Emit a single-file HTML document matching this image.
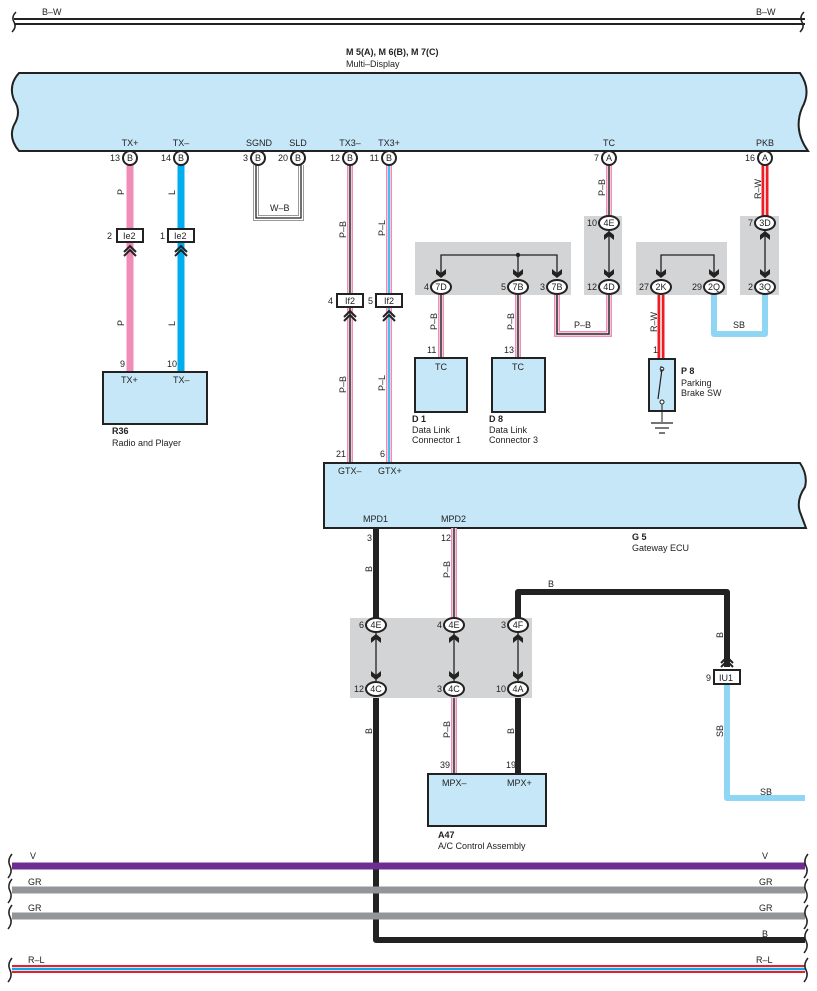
<!DOCTYPE html>
<html><head><meta charset="utf-8"><style>
html,body{margin:0;padding:0;background:#fff}
svg{display:block}
text{font-family:"Liberation Sans",sans-serif;font-size:9px;fill:#222}
.b{font-weight:bold}
</style></head><body>
<svg width="817" height="991" viewBox="0 0 817 991" xmlns="http://www.w3.org/2000/svg">
<defs>
<g id="dn"><path d="M-5,-7 L0,-3 L5,-7 L5,-2 L0,2 L-5,-2Z" fill="#222"/></g>
<g id="up"><path d="M-5,7 L0,3 L5,7 L5,2 L0,-2 L-5,2Z" fill="#222"/></g>
<g id="chev"><path d="M-6,4 L0,-2 L6,4 M-6,8 L0,2 L6,8" fill="none" stroke="#222" stroke-width="2"/></g>
</defs>

<!-- top B-W bus -->
<line x1="14" y1="19" x2="805" y2="19" stroke="#222" stroke-width="2"/>
<line x1="14" y1="24" x2="805" y2="24" stroke="#222" stroke-width="2"/>
<path d="M16,12 q-5,5 -2,10 q3,5 -2,10" fill="none" stroke="#222" stroke-width="1.5"/>
<path d="M804,12 q-5,5 -2,10 q3,5 -2,10" fill="none" stroke="#222" stroke-width="1.5"/>
<text x="42" y="15">B–W</text><text x="756" y="15">B–W</text>

<!-- Multi-display -->
<text x="346" y="55" class="b">M 5(A), M 6(B), M 7(C)</text>
<text x="346" y="67">Multi–Display</text>
<path d="M19,73 L800,73 Q812,90 802,108 Q793,130 808,151 L19,151 Q8,138 14,125 Q22,112 14,100 Q8,85 19,73Z" fill="#c6e7f8" stroke="#222" stroke-width="2"/>
<g text-anchor="middle">
<text x="130" y="146">TX+</text><text x="181" y="146">TX–</text><text x="259" y="146">SGND</text><text x="298" y="146">SLD</text>
<text x="350" y="146">TX3–</text><text x="389" y="146">TX3+</text><text x="609" y="146">TC</text><text x="765" y="146">PKB</text>
</g>

<!-- W-B shield -->
<path d="M256,165 V218 H301 V165" fill="none" stroke="#999" stroke-width="6"/>
<path d="M256,165 V218 H301 V165" fill="none" stroke="#fff" stroke-width="4"/>
<path d="M256,165 V218 H301 V165" fill="none" stroke="#222" stroke-width="1.3"/>
<text x="270" y="211">W–B</text>

<!-- TX+ P -->
<line x1="130" y1="165" x2="130" y2="372" stroke="#f08cb8" stroke-width="7"/>
<line x1="181" y1="165" x2="181" y2="372" stroke="#00aeef" stroke-width="7"/>
<rect x="117" y="229" width="26" height="13" fill="#fff" stroke="#222" stroke-width="2"/>
<rect x="168" y="229" width="26" height="13" fill="#fff" stroke="#222" stroke-width="2"/>
<text x="123" y="239">Ie2</text><text x="174" y="239">Ie2</text>
<text x="107" y="239">2</text><text x="160" y="239">1</text>
<use href="#chev" x="130" y="248"/><use href="#chev" x="181" y="248"/>
<text transform="translate(124,195) rotate(-90)">P</text>
<text transform="translate(175,195) rotate(-90)">L</text>
<text transform="translate(124,326) rotate(-90)">P</text>
<text transform="translate(175,326) rotate(-90)">L</text>
<text x="120" y="367">9</text><text x="167" y="367">10</text>
<rect x="103" y="372" width="104" height="52" fill="#c6e7f8" stroke="#222" stroke-width="2"/>
<text x="121" y="383">TX+</text><text x="173" y="383">TX–</text>
<text x="112" y="434" class="b">R36</text><text x="112" y="446">Radio and Player</text>

<!-- TX3- / TX3+ -->
<line x1="350" y1="165" x2="350" y2="463" stroke="#f08cb8" stroke-width="6"/>
<line x1="350" y1="165" x2="350" y2="463" stroke="#fff" stroke-width="3"/>
<line x1="350" y1="165" x2="350" y2="463" stroke="#222" stroke-width="1.5"/>
<line x1="389" y1="165" x2="389" y2="463" stroke="#f08cb8" stroke-width="6"/>
<line x1="389" y1="165" x2="389" y2="463" stroke="#fff" stroke-width="3"/>
<line x1="389" y1="165" x2="389" y2="463" stroke="#00aeef" stroke-width="1.5"/>
<rect x="337" y="294" width="26" height="13" fill="#fff" stroke="#222" stroke-width="2"/>
<rect x="376" y="294" width="26" height="13" fill="#fff" stroke="#222" stroke-width="2"/>
<text x="345" y="304">If2</text><text x="384" y="304">If2</text>
<text x="328" y="304">4</text><text x="368" y="304">5</text>
<use href="#chev" x="350" y="313"/><use href="#chev" x="389" y="313"/>
<text transform="translate(346,238) rotate(-90)">P–B</text>
<text transform="translate(385,236) rotate(-90)">P–L</text>
<text transform="translate(346,393) rotate(-90)">P–B</text>
<text transform="translate(385,391) rotate(-90)">P–L</text>
<text x="336" y="457">21</text><text x="380" y="457">6</text>

<!-- gray boxes -->
<rect x="415" y="242" width="156" height="53" fill="#d3d4d6"/>
<rect x="584" y="216" width="38" height="79" fill="#d3d4d6"/>
<rect x="636" y="242" width="91" height="53" fill="#d3d4d6"/>
<rect x="740" y="216" width="39" height="79" fill="#d3d4d6"/>
<rect x="350" y="618" width="182" height="80" fill="#d3d4d6"/>

<!-- TC P-B from display -->
<line x1="609" y1="165" x2="609" y2="216" stroke="#f08cb8" stroke-width="6"/>
<line x1="609" y1="165" x2="609" y2="216" stroke="#fff" stroke-width="3"/>
<line x1="609" y1="165" x2="609" y2="216" stroke="#222" stroke-width="1.5"/>
<text transform="translate(605,196) rotate(-90)">P–B</text>
<!-- PKB R-W -->
<line x1="765" y1="165" x2="765" y2="216" stroke="#ee1c25" stroke-width="7"/>
<line x1="765" y1="165" x2="765" y2="216" stroke="#fff" stroke-width="1.5"/>
<text transform="translate(761,199) rotate(-90)">R–W</text>

<!-- internal splice lines -->
<path d="M441,276 V255 H557 V276 M518,255 V276" fill="none" stroke="#222" stroke-width="1.3"/>
<circle cx="518" cy="255" r="2.2" fill="#222"/>
<path d="M661,276 V255 H714 V276" fill="none" stroke="#222" stroke-width="1.3"/>
<line x1="609" y1="230" x2="609" y2="278" stroke="#222" stroke-width="1.3"/>
<line x1="765" y1="230" x2="765" y2="278" stroke="#222" stroke-width="1.3"/>
<use href="#dn" x="441" y="276"/><use href="#dn" x="518" y="276"/><use href="#dn" x="557" y="276"/>
<use href="#dn" x="609" y="276"/><use href="#dn" x="661" y="276"/><use href="#dn" x="714" y="276"/><use href="#dn" x="765" y="276"/>
<use href="#up" x="609" y="233"/><use href="#up" x="765" y="233"/>

<!-- wires below box1 -->
<g fill="none">
<path d="M441,295 V358 M518,295 V358 M557,295 V334 H609 V295" stroke="#f08cb8" stroke-width="6"/>
<path d="M441,295 V358 M518,295 V358 M557,295 V334 H609 V295" stroke="#fff" stroke-width="3"/>
<path d="M441,295 V358 M518,295 V358 M557,295 V334 H609 V295" stroke="#222" stroke-width="1.5"/>
<path d="M661,295 V358" stroke="#ee1c25" stroke-width="7"/>
<path d="M661,295 V358" stroke="#fff" stroke-width="1.5"/>
<path d="M714,295 V334 H765 V295" stroke="#8fd6f5" stroke-width="6" stroke-linejoin="round"/>
</g>
<text transform="translate(437,330) rotate(-90)">P–B</text>
<text transform="translate(514,330) rotate(-90)">P–B</text>
<text x="574" y="328">P–B</text>
<text transform="translate(657,332) rotate(-90)">R–W</text>
<text x="733" y="328">SB</text>

<!-- connectors -->
<g stroke="#222" stroke-width="2" fill="#fff">
<circle cx="130" cy="158" r="7"/><circle cx="181" cy="158" r="7"/><circle cx="258" cy="158" r="7"/><circle cx="298" cy="158" r="7"/>
<circle cx="350" cy="158" r="7"/><circle cx="389" cy="158" r="7"/><circle cx="609" cy="158" r="7"/><circle cx="765" cy="158" r="7"/>
<ellipse cx="609" cy="223" rx="10" ry="7"/><ellipse cx="765" cy="223" rx="10" ry="7"/>
<ellipse cx="441" cy="287" rx="10" ry="7"/><ellipse cx="518" cy="287" rx="10" ry="7"/><ellipse cx="557" cy="287" rx="10" ry="7"/>
<ellipse cx="609" cy="287" rx="10" ry="7"/><ellipse cx="661" cy="287" rx="10" ry="7"/><ellipse cx="714" cy="287" rx="10" ry="7"/><ellipse cx="765" cy="287" rx="10" ry="7"/>
</g>
<g text-anchor="middle">
<text x="130" y="161">B</text><text x="181" y="161">B</text><text x="258" y="161">B</text><text x="298" y="161">B</text>
<text x="350" y="161">B</text><text x="389" y="161">B</text><text x="609" y="161">A</text><text x="765" y="161">A</text>
<text x="609" y="226">4E</text><text x="765" y="226">3D</text>
<text x="441" y="290">7D</text><text x="518" y="290">7B</text><text x="557" y="290">7B</text><text x="609" y="290">4D</text>
<text x="661" y="290">2K</text><text x="714" y="290">2Q</text><text x="765" y="290">3Q</text>
</g>
<g text-anchor="end">
<text x="120" y="161">13</text><text x="171" y="161">14</text><text x="248" y="161">3</text><text x="288" y="161">20</text>
<text x="340" y="161">12</text><text x="379" y="161">11</text><text x="599" y="161">7</text><text x="755" y="161">16</text>
<text x="597" y="226">10</text><text x="753" y="226">7</text>
<text x="429" y="290">4</text><text x="506" y="290">5</text><text x="545" y="290">3</text><text x="597" y="290">12</text>
<text x="649" y="290">27</text><text x="702" y="290">29</text><text x="753" y="290">2</text>
</g>

<!-- D1 D8 -->
<text x="427" y="353">11</text><text x="504" y="353">13</text>
<rect x="415" y="358" width="52" height="54" fill="#c6e7f8" stroke="#222" stroke-width="2"/>
<rect x="492" y="358" width="53" height="54" fill="#c6e7f8" stroke="#222" stroke-width="2"/>
<text x="435" y="370">TC</text><text x="512" y="370">TC</text>
<text x="412" y="422" class="b">D 1</text><text x="412" y="433">Data Link</text><text x="412" y="443">Connector 1</text>
<text x="489" y="422" class="b">D 8</text><text x="489" y="433">Data Link</text><text x="489" y="443">Connector 3</text>

<!-- P8 -->
<text x="653" y="353">1</text>
<rect x="649" y="359" width="26" height="52" fill="#c6e7f8" stroke="#222" stroke-width="2"/>
<line x1="661" y1="366" x2="661" y2="372" stroke="#222"/>
<circle cx="662" cy="369" r="1.8" fill="#fff" stroke="#222"/>
<line x1="662" y1="369" x2="658" y2="399" stroke="#222" stroke-width="1.2"/>
<circle cx="662" cy="402" r="2" fill="#fff" stroke="#222"/>
<line x1="662" y1="404" x2="662" y2="422" stroke="#222"/>
<line x1="651" y1="423" x2="673" y2="423" stroke="#222" stroke-width="1.2"/>
<line x1="655" y1="428" x2="669" y2="428" stroke="#222" stroke-width="1.2"/>
<line x1="659" y1="433" x2="665" y2="433" stroke="#222" stroke-width="1.2"/>
<text x="681" y="374" class="b">P 8</text><text x="681" y="386">Parking</text><text x="681" y="396">Brake SW</text>

<!-- G5 -->
<path d="M324,463 L800,463 Q808,475 805,487 Q796,500 800,512 L806,528 L324,528Z" fill="#c6e7f8" stroke="#222" stroke-width="2"/>
<text x="338" y="474">GTX–</text><text x="378" y="474">GTX+</text>
<text x="363" y="522">MPD1</text><text x="441" y="522">MPD2</text>
<text x="632" y="540" class="b">G 5</text><text x="632" y="551">Gateway ECU</text>

<!-- lower wires -->
<g fill="none">
<path d="M376,528 V618 M376,698 V940 H805" stroke="#222" stroke-width="6" stroke-linejoin="round"/>
<path d="M518,618 V592 H727 V667 M518,698 V773" stroke="#222" stroke-width="6" stroke-linejoin="round"/>
<path d="M454,528 V618 M454,698 V773" stroke="#f08cb8" stroke-width="6"/>
<path d="M454,528 V618 M454,698 V773" stroke="#fff" stroke-width="3"/>
<path d="M454,528 V618 M454,698 V773" stroke="#222" stroke-width="1.5"/>
<path d="M727,684 V798 H805" stroke="#8fd6f5" stroke-width="6" stroke-linejoin="round"/>
</g>
<!-- gray-box internals -->
<g stroke="#222" stroke-width="1.3"><line x1="376" y1="633" x2="376" y2="681"/><line x1="454" y1="633" x2="454" y2="681"/><line x1="518" y1="633" x2="518" y2="681"/></g>
<use href="#up" x="376" y="636"/><use href="#up" x="454" y="636"/><use href="#up" x="518" y="636"/>
<use href="#dn" x="376" y="678"/><use href="#dn" x="454" y="678"/><use href="#dn" x="518" y="678"/>
<g stroke="#222" stroke-width="2" fill="#fff">
<ellipse cx="376" cy="625" rx="10" ry="7"/><ellipse cx="454" cy="625" rx="10" ry="7"/><ellipse cx="518" cy="625" rx="10" ry="7"/>
<ellipse cx="376" cy="689" rx="10" ry="7"/><ellipse cx="454" cy="689" rx="10" ry="7"/><ellipse cx="518" cy="689" rx="10" ry="7"/>
</g>
<g text-anchor="middle">
<text x="376" y="628">4E</text><text x="454" y="628">4E</text><text x="518" y="628">4F</text>
<text x="376" y="692">4C</text><text x="454" y="692">4C</text><text x="518" y="692">4A</text>
</g>
<g text-anchor="end">
<text x="364" y="628">6</text><text x="442" y="628">4</text><text x="506" y="628">3</text>
<text x="364" y="692">12</text><text x="442" y="692">3</text><text x="506" y="692">10</text>
</g>
<text x="367" y="541">3</text><text x="441" y="541">12</text>
<text transform="translate(372,572) rotate(-90)">B</text>
<text transform="translate(450,578) rotate(-90)">P–B</text>
<text transform="translate(372,734) rotate(-90)">B</text>
<text transform="translate(450,738) rotate(-90)">P–B</text>
<text transform="translate(514,734) rotate(-90)">B</text>
<text x="548" y="587">B</text>
<text transform="translate(723,638) rotate(-90)">B</text>
<text transform="translate(723,737) rotate(-90)">SB</text>
<text x="760" y="795">SB</text>
<use href="#chev" x="727" y="659"/>
<rect x="714" y="670" width="26" height="14" fill="#fff" stroke="#222" stroke-width="2"/>
<text x="719" y="681">IU1</text><text x="706" y="681">9</text>

<!-- A47 -->
<text x="440" y="768">39</text><text x="506" y="768">19</text>
<rect x="428" y="774" width="118" height="52" fill="#c6e7f8" stroke="#222" stroke-width="2"/>
<text x="442" y="786">MPX–</text><text x="507" y="786">MPX+</text>
<text x="438" y="838" class="b">A47</text><text x="438" y="849">A/C Control Assembly</text>

<!-- bottom buses -->
<line x1="12" y1="866" x2="805" y2="866" stroke="#6f2c91" stroke-width="7"/>
<line x1="12" y1="890" x2="805" y2="890" stroke="#939598" stroke-width="7"/>
<line x1="12" y1="916" x2="805" y2="916" stroke="#939598" stroke-width="7"/>
<line x1="12" y1="966" x2="805" y2="966" stroke="#ee1c25" stroke-width="2"/>
<line x1="12" y1="969" x2="805" y2="969" stroke="#00aeef" stroke-width="2.5"/>
<line x1="12" y1="972" x2="805" y2="972" stroke="#ee1c25" stroke-width="2"/>
<g fill="none" stroke="#222" stroke-width="1.5">
<path d="M12,854 q-5,6 -2,12 q3,6 -2,12"/><path d="M12,879 q-5,6 -2,12 q3,6 -2,12"/><path d="M12,905 q-5,6 -2,12 q3,6 -2,12"/><path d="M12,958 q-5,6 -2,12 q3,6 -2,12"/>
<path d="M808,854 q-5,6 -2,12 q3,6 -2,12"/><path d="M808,879 q-5,6 -2,12 q3,6 -2,12"/><path d="M808,905 q-5,6 -2,12 q3,6 -2,12"/><path d="M808,929 q-5,6 -2,12 q3,6 -2,12"/><path d="M808,958 q-5,6 -2,12 q3,6 -2,12"/>
</g>
<text x="30" y="859">V</text><text x="762" y="859">V</text>
<text x="28" y="885">GR</text><text x="759" y="885">GR</text>
<text x="28" y="911">GR</text><text x="759" y="911">GR</text>
<text x="762" y="937">B</text>
<text x="28" y="963">R–L</text><text x="756" y="963">R–L</text>
</svg>
</body></html>
